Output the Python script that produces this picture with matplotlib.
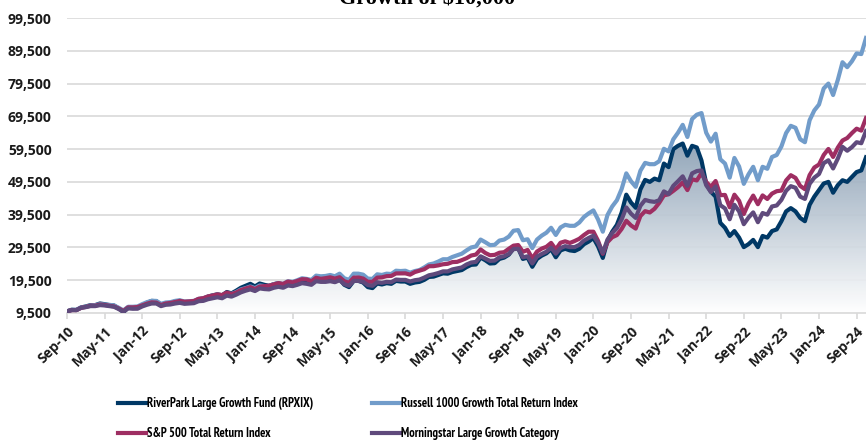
import numpy as np
import matplotlib
matplotlib.use("Agg")
import matplotlib.pyplot as plt
from matplotlib.colors import LinearSegmentedColormap

plt.rcParams['font.family'] = ['Open Sans', 'DejaVu Sans']

# growth of $10,000, monthly Sep-10 .. Nov-24
sp500 = [10000, 10380, 10380, 11075, 11341, 11727, 11727, 12079, 11946, 11743, 11508, 10886, 10124,
         11228, 11206, 11318, 11827, 12336, 12743, 12667, 11907, 12395, 12569, 12858, 13192, 12955,
         13033, 13150, 13834, 14027, 14560, 14837, 15178, 14981, 15745, 15288, 15762, 16487, 16982,
         17406, 16797, 17570, 17710, 17834, 18245, 18628, 18367, 19102, 18834, 19286, 19807, 19748,
         19155, 20247, 19923, 20123, 20384, 19997, 20417, 19192, 18712, 20284, 20345, 20020, 19019,
         19000, 20292, 20373, 20740, 20802, 21572, 21593, 21593, 21204, 21989, 22428, 22854, 23769,
         23792, 24030, 24367, 24513, 25028, 25103, 25630, 26219, 27032, 27329, 28887, 27818, 27123,
         27231, 27885, 28052, 29090, 30050, 30230, 28174, 28738, 26151, 28243, 29147, 29701, 30889,
         28912, 30936, 31369, 30867, 31454, 32146, 33303, 34302, 34302, 31489, 27585, 31116, 32610,
         33262, 35124, 37653, 36222, 35244, 39086, 40571, 40165, 41290, 43107, 45392, 45710, 46761,
         47883, 49319, 47001, 50291, 49939, 52186, 49472, 47988, 49764, 45434, 45525, 41747, 45588,
         43719, 39697, 42912, 45315, 42687, 45376, 44287, 45926, 46661, 46848, 49940, 51538, 50713,
         48279, 47265, 51566, 53886, 54802, 57707, 59554, 57112, 59968, 62127, 62873, 64382, 65734,
         65142, 68985]
russell = [10000, 10400, 10500, 11200, 11400, 11800, 11900, 12200, 12100, 12000, 11800, 11100, 10300,
           11400, 11400, 11500, 12200, 12800, 13200, 13200, 12300, 12700, 12800, 13200, 13400, 13000,
           13100, 13200, 13800, 14000, 14500, 14800, 15100, 14800, 15600, 15300, 15900, 16700, 17100,
           17600, 17100, 17900, 17700, 17700, 18300, 18600, 18400, 19200, 19000, 19500, 20100, 19900,
           19600, 20900, 20700, 20800, 21100, 20700, 21500, 20100, 19600, 21500, 21500, 21200, 20000,
           19900, 21300, 21100, 21500, 21400, 22400, 22300, 22400, 21800, 22300, 22600, 23400, 24300,
           24600, 25200, 25900, 25900, 26600, 27100, 27600, 28600, 29500, 29800, 31900, 31100, 30200,
           30300, 31600, 31900, 32800, 34600, 34800, 31700, 32000, 29300, 31900, 33100, 34000, 35500,
           33300, 35600, 36400, 36100, 36100, 37100, 38800, 39900, 40800, 38000, 34300, 39400, 42000,
           43900, 47300, 52100, 49700, 48000, 52900, 55300, 54900, 54900, 55800, 59600, 58800, 62500,
           64500, 66900, 63200, 68700, 70000, 70500, 64500, 61800, 64200, 56400, 55100, 50800, 56800,
           54200, 48900, 51800, 54100, 50000, 54100, 53500, 57100, 57700, 60300, 64400, 66600, 66000,
           62500, 61600, 68300, 71300, 73100, 78000, 79500, 76000, 80600, 86000, 84500, 86300, 88700,
           88500, 93400]
morningstar = [10000, 10400, 10400, 11100, 11300, 11600, 11600, 11900, 11800, 11600, 11400, 10700, 9900,
               10900, 10800, 10800, 11500, 12000, 12400, 12400, 11600, 12000, 12100, 12400, 12600, 12300,
               12400, 12500, 13100, 13200, 13700, 14000, 14300, 14000, 14800, 14500, 15100, 15800, 16300,
               16700, 16200, 17000, 16800, 16700, 17200, 17500, 17200, 17900, 17700, 18100, 18600, 18400,
               18100, 19200, 19000, 19000, 19200, 18900, 19500, 18300, 17800, 19300, 19300, 19000, 18000,
               17800, 18900, 18700, 19000, 18900, 19700, 19600, 19600, 19100, 19500, 19700, 20300, 21000,
               21300, 21700, 22200, 22200, 22800, 23100, 23400, 24300, 24900, 25100, 26800, 26100, 25400,
               25500, 26500, 26800, 27500, 29000, 29100, 26500, 26800, 24600, 26700, 27500, 28200, 29400,
               27600, 29300, 29900, 29600, 29600, 30300, 31600, 32400, 33100, 30900, 27900, 31900, 33900,
               35400, 38000, 41700, 39800, 38500, 42200, 44000, 43600, 43400, 43900, 46600, 45800, 48300,
               49700, 51200, 48300, 52100, 52800, 53000, 48500, 46400, 48100, 42400, 41400, 38100, 42500,
               40500, 36600, 38600, 40200, 37200, 40000, 39500, 42000, 42300, 44000, 46800, 48200, 47700,
               45000, 44300, 48900, 50800, 51900, 55200, 56100, 53600, 56600, 60200, 59000, 60100, 61600,
               61300, 65000]
riverpark = [10000, 10500, 10400, 11200, 11500, 11900, 11900, 12400, 12200, 11900, 11800, 10900, 9800,
             11100, 11000, 11100, 11900, 12600, 13200, 13100, 12000, 12500, 12600, 13000, 13200, 12700,
             12800, 13000, 13700, 13900, 14500, 14900, 15200, 14900, 15900, 15500, 16300, 17200, 17800,
             18400, 17600, 18500, 18100, 17800, 18300, 18600, 18100, 18900, 18400, 18800, 19400, 19000,
             18500, 19900, 19500, 19400, 19700, 19100, 19800, 18100, 17400, 19300, 19300, 18800, 17400,
             17100, 18500, 18200, 18600, 18400, 19300, 19100, 19100, 18400, 18800, 19000, 19600, 20500,
             20600, 21100, 21600, 21500, 22000, 22300, 22600, 23500, 24200, 24300, 26400, 25600, 24600,
             24700, 26000, 26400, 27300, 29200, 29300, 26000, 26400, 23600, 26000, 27000, 27700, 29000,
             26500, 28600, 29100, 28600, 28400, 29100, 30500, 31300, 32400, 29800, 26300, 31500, 34300,
             36400, 40100, 45600, 43200, 41600, 47200, 50100, 49500, 50500, 50000, 55100, 54000, 59500,
             60500, 61200, 57500, 60500, 60000, 56000, 49000, 46500, 45000, 37000, 35500, 33000, 34500,
             32500, 29600, 30500, 31800, 29600, 33000, 32500, 34500, 35000, 37500, 40500, 41500, 40500,
             38500, 37500, 42500, 45000, 47000, 49000, 49500, 46200, 48500, 50000, 49500, 51000, 52500,
             53000, 57000]

tick_labels = ['Sep-10', 'May-11', 'Jan-12', 'Sep-12', 'May-13', 'Jan-14', 'Sep-14', 'May-15',
               'Jan-16', 'Sep-16', 'May-17', 'Jan-18', 'Sep-18', 'May-19', 'Jan-20', 'Sep-20',
               'May-21', 'Jan-22', 'Sep-22', 'May-23', 'Jan-24', 'Sep-24']
y_ticks = list(range(9500, 100000, 10000))

x = np.arange(len(sp500))
rp = np.array(riverpark)

fig = plt.figure(figsize=(8.66, 4.41), dpi=100)
ax = fig.add_axes([67 / 866, 1 - 313 / 441, 799 / 866, 295 / 441])

# gradient area under the fund line
cmap = LinearSegmentedColormap.from_list('g', ['#ffffff', '#8a9fb4'])
grad = np.linspace(0, 1, 256).reshape(-1, 1)
im = ax.imshow(grad, extent=[0, x[-1], 9500, rp.max()], origin='lower', aspect='auto',
               cmap=cmap, zorder=1, alpha=0.92)
poly = ax.fill_between(x, 9500, rp, facecolor='none', edgecolor='none')
im.set_clip_path(poly.get_paths()[0], transform=ax.transData)

lw = 3.0
l_rp, = ax.plot(x, rp, color='#003865', lw=lw, zorder=3)
l_rg, = ax.plot(x, russell, color='#719cca', lw=lw, zorder=3)
l_sp, = ax.plot(x, sp500, color='#9e2e62', lw=lw, zorder=3)
l_ms, = ax.plot(x, morningstar, color='#5f4a7c', lw=lw, zorder=3)

ax.set_xlim(0, x[-1])
ax.set_ylim(9500, 99500)
ax.set_yticks(y_ticks)
ax.set_yticklabels([f'{v:,}' for v in y_ticks])
ax.set_xticks(range(0, 169, 8))
ax.set_xticklabels(tick_labels)
ax.grid(axis='y', color='#d9d9d9', lw=1.2, zorder=0)
ax.set_axisbelow(True)
for s in ['top', 'right', 'left']:
    ax.spines[s].set_visible(False)
ax.spines['bottom'].set_color('#d9d9d9')
ax.spines['bottom'].set_linewidth(1.2)
ax.tick_params(axis='y', length=0, pad=11, labelsize=10, labelcolor='#1a1a1a')
ax.tick_params(axis='x', length=4, color='#d9d9d9', width=1.2, pad=4, labelsize=10, labelcolor='#1a1a1a')
for lab in ax.get_yticklabels() + ax.get_xticklabels():
    lab.set_fontweight('bold')
plt.setp(ax.get_xticklabels(), rotation=45, ha='right', rotation_mode='anchor')

# title sits mostly above the canvas, as in the original
fig.text(427 / 866, 1 - 4 / 441, r'Growth of \$10,000', ha='center', va='baseline',
         fontsize=16, fontweight='bold', family='Liberation Serif')

fig.legend([l_rp, l_sp, l_rg, l_ms],
           ['RiverPark Large Growth Fund (RPXIX)', 'S&P 500 Total Return Index',
            'Russell 1000 Growth Total Return Index', 'Morningstar Large Growth Category'],
           ncol=2, loc='upper left', bbox_to_anchor=(118 / 866, 1 - 397 / 441),
           frameon=False, borderpad=0, borderaxespad=0, handlelength=2.2, handletextpad=0.1,
           columnspacing=4.75, labelspacing=1.36,
           prop={'family': ['PT Sans Narrow', 'DejaVu Sans'], 'weight': 'bold', 'size': 9})

fig.savefig('out.png', dpi=100)
